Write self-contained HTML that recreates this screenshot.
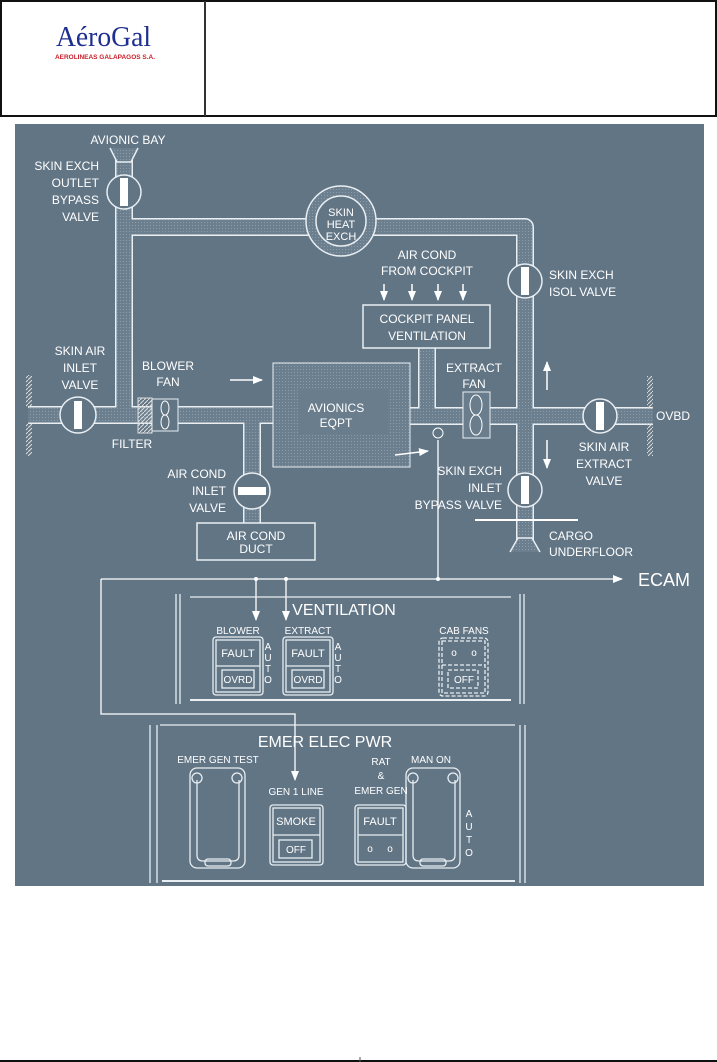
<!DOCTYPE html>
<html><head><meta charset="utf-8"><style>
html,body{margin:0;padding:0;background:#fff;width:717px;height:1062px;overflow:hidden}
svg{display:block}
text{font-family:"Liberation Sans",sans-serif;fill:#fff}
</style></head><body>
<svg width="717" height="1062" viewBox="0 0 717 1062" xmlns="http://www.w3.org/2000/svg">
<defs>
<pattern id="dots" width="3" height="3" patternUnits="userSpaceOnUse">
<rect width="3" height="3" fill="#6c7f8f"/><rect x="0" y="0" width="1" height="1" fill="#8c9cab"/>
</pattern>
<marker id="ah" markerWidth="10" markerHeight="8" refX="9" refY="4" orient="auto" markerUnits="userSpaceOnUse"><path d="M0,0 L10,4 L0,8z" fill="#fff"/></marker>
<pattern id="hatch" width="4" height="4" patternUnits="userSpaceOnUse"><path d="M0,4 L4,0" stroke="#ddd" stroke-width="1"/></pattern>
</defs>
<!-- header -->
<rect x="1" y="1" width="715" height="115" fill="#fff" stroke="#111" stroke-width="2"/>
<line x1="205" y1="1" x2="205" y2="116" stroke="#333" stroke-width="2"/>
<text x="56" y="46" style="font-family:'Liberation Serif',serif;font-size:28px;fill:#1f2f8f" textLength="95" lengthAdjust="spacingAndGlyphs">AéroGal</text>
<text x="55" y="59" style="font-size:6.5px;fill:#c8202a;font-weight:bold" textLength="100" lengthAdjust="spacingAndGlyphs">AEROLINEAS GALAPAGOS S.A.</text>
<!-- diagram bg -->
<rect x="15" y="124" width="689" height="762" fill="#627585"/>
<g fill="none" stroke-linejoin="round">
<g stroke="#e8eef2" stroke-width="18">
<polyline points="124,160 124,415 28,415"/>
<polyline points="124,227 525,227 525,540"/>
<polyline points="124,415 273,415"/>
<polyline points="252,415 252,523"/>
<polyline points="410,416 653,416"/>
<polyline points="427,348 427,416"/>
</g>
<g stroke="url(#dots)" stroke-width="15">
<polyline points="124,160 124,415 28,415"/>
<polyline points="124,227 525,227 525,540"/>
<polyline points="124,415 273,415"/>
<polyline points="252,415 252,523"/>
<polyline points="410,416 653,416"/>
<polyline points="427,348 427,416"/>
</g>
</g>
<!-- funnels -->
<path d="M110,148 L117,162 L131,162 L138,148" fill="url(#dots)" stroke="#e8eef2" stroke-width="1.5"/>
<path d="M510,552 L518,538 L532,538 L540,552" fill="url(#dots)" stroke="#e8eef2" stroke-width="1.5"/>
<!-- heat exch -->
<circle cx="341" cy="221" r="35" fill="url(#dots)" stroke="#e8eef2" stroke-width="1.5"/>
<circle cx="341" cy="221" r="25" fill="#627585" stroke="#e8eef2" stroke-width="1.5"/>
<text x="341" y="216" font-size="11" text-anchor="middle">SKIN</text>
<text x="341" y="228" font-size="11" text-anchor="middle">HEAT</text>
<text x="341" y="240" font-size="11" text-anchor="middle">EXCH</text>
<!-- avionics box -->
<rect x="273" y="363" width="137" height="104" fill="url(#dots)" stroke="#e8eef2" stroke-width="1"/>
<rect x="298" y="390" width="90" height="45" fill="#6a7d8d"/>
<text x="336" y="412" font-size="12" text-anchor="middle">AVIONICS</text>
<text x="336" y="427" font-size="12" text-anchor="middle">EQPT</text>
<line x1="230" y1="380" x2="262" y2="380" stroke="#fff" stroke-width="1.5" marker-end="url(#ah)"/>
<line x1="395" y1="455" x2="428" y2="451" stroke="#fff" stroke-width="1.5" marker-end="url(#ah)"/>
<!-- cockpit box -->
<rect x="363" y="305" width="127" height="43" fill="#627585" stroke="#e8eef2" stroke-width="1.5"/>
<text x="427" y="323" font-size="12" text-anchor="middle">COCKPIT PANEL</text>
<text x="427" y="340" font-size="12" text-anchor="middle">VENTILATION</text>
<text x="427" y="259" font-size="12" text-anchor="middle">AIR COND</text>
<text x="427" y="275" font-size="12" text-anchor="middle">FROM COCKPIT</text>
<g stroke="#fff" stroke-width="1.5"><line x1="384" y1="284" x2="384" y2="300" marker-end="url(#ah)"/><line x1="412" y1="284" x2="412" y2="300" marker-end="url(#ah)"/><line x1="438" y1="284" x2="438" y2="300" marker-end="url(#ah)"/><line x1="463" y1="284" x2="463" y2="300" marker-end="url(#ah)"/></g>
<!-- extract fan -->
<rect x="463" y="392" width="27" height="46" fill="#6a7d8d" stroke="#e8eef2" stroke-width="1"/>
<ellipse cx="476" cy="405" rx="6" ry="10" fill="none" stroke="#fff"/><ellipse cx="476" cy="425" rx="6" ry="10" fill="none" stroke="#fff"/>
<text x="474" y="372" font-size="12" text-anchor="middle">EXTRACT</text>
<text x="474" y="388" font-size="12" text-anchor="middle">FAN</text>
<!-- filter, blower -->
<rect x="138" y="398" width="14" height="35" fill="url(#hatch)" stroke="#ddd"/>
<rect x="152" y="399" width="26" height="32" fill="#627585" stroke="#e8eef2"/>
<ellipse cx="165" cy="408" rx="4" ry="7" fill="none" stroke="#fff"/><ellipse cx="165" cy="422" rx="4" ry="7" fill="none" stroke="#fff"/>
<text x="168" y="370" font-size="12" text-anchor="middle">BLOWER</text>
<text x="168" y="386" font-size="12" text-anchor="middle">FAN</text>
<text x="132" y="448" font-size="12" text-anchor="middle">FILTER</text>
<!-- air cond duct -->
<rect x="197" y="523" width="118" height="37" fill="#627585" stroke="#e8eef2" stroke-width="1.5"/>
<text x="256" y="540" font-size="12" text-anchor="middle">AIR COND</text>
<text x="256" y="553" font-size="12" text-anchor="middle">DUCT</text>
<!-- valves -->
<g stroke="#e8eef2" stroke-width="1.5" fill="#627585">
<circle cx="124" cy="192" r="17"/><circle cx="78" cy="415" r="18"/><circle cx="252" cy="491" r="18"/>
<circle cx="525" cy="281" r="17"/><circle cx="600" cy="416" r="17"/><circle cx="525" cy="490" r="17"/>
</g>
<g fill="#fff">
<rect x="120" y="178" width="8" height="28"/><rect x="74" y="401" width="8" height="28"/><rect x="238" y="487" width="28" height="8"/>
<rect x="521" y="267" width="8" height="28"/><rect x="596" y="402" width="8" height="28"/><rect x="521" y="476" width="8" height="28"/>
</g>
<!-- walls -->
<rect x="26" y="375" width="6" height="33" fill="url(#hatch)"/><rect x="26" y="423" width="6" height="33" fill="url(#hatch)"/>
<rect x="647" y="376" width="6" height="32" fill="url(#hatch)"/><rect x="647" y="424" width="6" height="32" fill="url(#hatch)"/>
<circle cx="438" cy="433" r="5" fill="none" stroke="#fff"/>
<line x1="475" y1="520" x2="578" y2="520" stroke="#fff" stroke-width="2"/>
<g stroke="#fff" stroke-width="1.5"><line x1="547" y1="390" x2="547" y2="362" marker-end="url(#ah)"/><line x1="547" y1="440" x2="547" y2="468" marker-end="url(#ah)"/></g>
<!-- labels -->
<g font-size="12">
<text x="128" y="144" text-anchor="middle">AVIONIC BAY</text>
<text x="99" y="170" text-anchor="end">SKIN EXCH</text><text x="99" y="187" text-anchor="end">OUTLET</text><text x="99" y="204" text-anchor="end">BYPASS</text><text x="99" y="221" text-anchor="end">VALVE</text>
<text x="80" y="355" text-anchor="middle">SKIN AIR</text><text x="80" y="372" text-anchor="middle">INLET</text><text x="80" y="389" text-anchor="middle">VALVE</text>
<text x="226" y="478" text-anchor="end">AIR COND</text><text x="226" y="495" text-anchor="end">INLET</text><text x="226" y="512" text-anchor="end">VALVE</text>
<text x="549" y="279">SKIN EXCH</text><text x="549" y="296">ISOL VALVE</text>
<text x="656" y="420">OVBD</text>
<text x="604" y="451" text-anchor="middle">SKIN AIR</text><text x="604" y="468" text-anchor="middle">EXTRACT</text><text x="604" y="485" text-anchor="middle">VALVE</text>
<text x="502" y="475" text-anchor="end">SKIN EXCH</text><text x="502" y="492" text-anchor="end">INLET</text><text x="502" y="509" text-anchor="end">BYPASS VALVE</text>
<text x="549" y="540">CARGO</text><text x="549" y="556">UNDERFLOOR</text>
</g>
<!-- signal lines -->
<g stroke="#fff" stroke-width="1.3" fill="none">
<line x1="438" y1="440" x2="438" y2="579"/>
<line x1="101" y1="579" x2="622" y2="579" marker-end="url(#ah)"/>
<polyline points="101,579 101,714 295,714 295,780" marker-end="url(#ah)"/>
<line x1="256" y1="579" x2="256" y2="620" marker-end="url(#ah)"/>
<line x1="286" y1="579" x2="286" y2="620" marker-end="url(#ah)"/>
</g>
<g fill="#fff"><circle cx="256" cy="579" r="2"/><circle cx="286" cy="579" r="2"/><circle cx="438" cy="579" r="2"/></g>
<text x="638" y="586" font-size="18">ECAM</text>
<!-- ventilation panel -->
<g stroke="#e8eef2" stroke-width="1.3" fill="none">
<line x1="176" y1="594" x2="176" y2="704"/><line x1="180" y1="594" x2="180" y2="704"/>
<line x1="520" y1="594" x2="520" y2="704"/><line x1="524" y1="594" x2="524" y2="704"/>
<line x1="190" y1="597" x2="511" y2="597"/><line x1="190" y1="700" x2="511" y2="700" stroke-width="2"/>
<rect x="213" y="637" width="50" height="58" rx="3"/><rect x="216" y="640" width="44" height="52"/><line x1="216" y1="666" x2="260" y2="666"/><rect x="222" y="670" width="32" height="18"/>
<rect x="283" y="637" width="50" height="58" rx="3"/><rect x="286" y="640" width="44" height="52"/><line x1="286" y1="666" x2="330" y2="666"/><rect x="292" y="670" width="32" height="18"/>
<g stroke-dasharray="4,2"><rect x="439" y="638" width="49" height="58" rx="4"/><rect x="442" y="641" width="43" height="52"/><line x1="442" y1="665" x2="485" y2="665"/><rect x="448" y="670" width="30" height="18"/></g>
</g>
<text x="344" y="615" font-size="16" text-anchor="middle">VENTILATION</text>
<g font-size="10" text-anchor="middle">
<text x="238" y="634">BLOWER</text><text x="308" y="634">EXTRACT</text><text x="464" y="634">CAB FANS</text>
<text x="238" y="657" font-size="11">FAULT</text><text x="238" y="683">OVRD</text>
<text x="308" y="657" font-size="11">FAULT</text><text x="308" y="683">OVRD</text>
<text x="464" y="683">OFF</text><text x="454" y="656">o</text><text x="474" y="656">o</text>
<text x="268" y="650">A</text><text x="268" y="661">U</text><text x="268" y="672">T</text><text x="268" y="683">O</text>
<text x="338" y="650">A</text><text x="338" y="661">U</text><text x="338" y="672">T</text><text x="338" y="683">O</text>
</g>
<!-- emer elec panel -->
<g stroke="#e8eef2" stroke-width="1.3" fill="none">
<line x1="150" y1="725" x2="150" y2="883"/><line x1="157" y1="725" x2="157" y2="883"/>
<line x1="520" y1="725" x2="520" y2="883"/><line x1="525" y1="725" x2="525" y2="883"/>
<line x1="160" y1="725" x2="515" y2="725"/><line x1="162" y1="881" x2="515" y2="881" stroke-width="2"/>
<rect x="190" y="768" width="55" height="100" rx="7"/><path d="M197,780 v75 q0,6 6,6 h30 q6,0 6,-6 v-75"/><rect x="205" y="859" width="26" height="7" rx="3"/>
<circle cx="197" cy="778" r="5"/><circle cx="237" cy="778" r="5"/>
<rect x="270" y="805" width="53" height="60" rx="3"/><rect x="273" y="808" width="47" height="54"/><line x1="273" y1="835" x2="320" y2="835"/><rect x="279" y="840" width="33" height="18"/>
<rect x="355" y="805" width="51" height="60" rx="3"/><rect x="358" y="808" width="45" height="54"/><line x1="358" y1="835" x2="403" y2="835"/>
<rect x="406" y="768" width="54" height="100" rx="7"/><path d="M413,780 v75 q0,6 6,6 h30 q6,0 6,-6 v-75"/><rect x="420" y="859" width="26" height="7" rx="3"/>
<circle cx="413" cy="778" r="5"/><circle cx="453" cy="778" r="5"/>
</g>
<text x="325" y="747" font-size="16" text-anchor="middle">EMER ELEC PWR</text>
<g font-size="10" text-anchor="middle">
<text x="218" y="763">EMER GEN TEST</text><text x="296" y="795">GEN 1 LINE</text>
<text x="381" y="765">RAT</text><text x="381" y="779">&amp;</text><text x="381" y="794">EMER GEN</text><text x="431" y="763">MAN ON</text>
<text x="296" y="825" font-size="11">SMOKE</text><text x="296" y="853">OFF</text>
<text x="380" y="825" font-size="11">FAULT</text><text x="370" y="852">o</text><text x="390" y="852">o</text>
<text x="469" y="817">A</text><text x="469" y="830">U</text><text x="469" y="843">T</text><text x="469" y="856">O</text>
</g>
<!-- footer -->
<line x1="0" y1="1061" x2="717" y2="1061" stroke="#111" stroke-width="2"/>
<line x1="360" y1="1057" x2="360" y2="1062" stroke="#555"/>
</svg>
</body></html>
